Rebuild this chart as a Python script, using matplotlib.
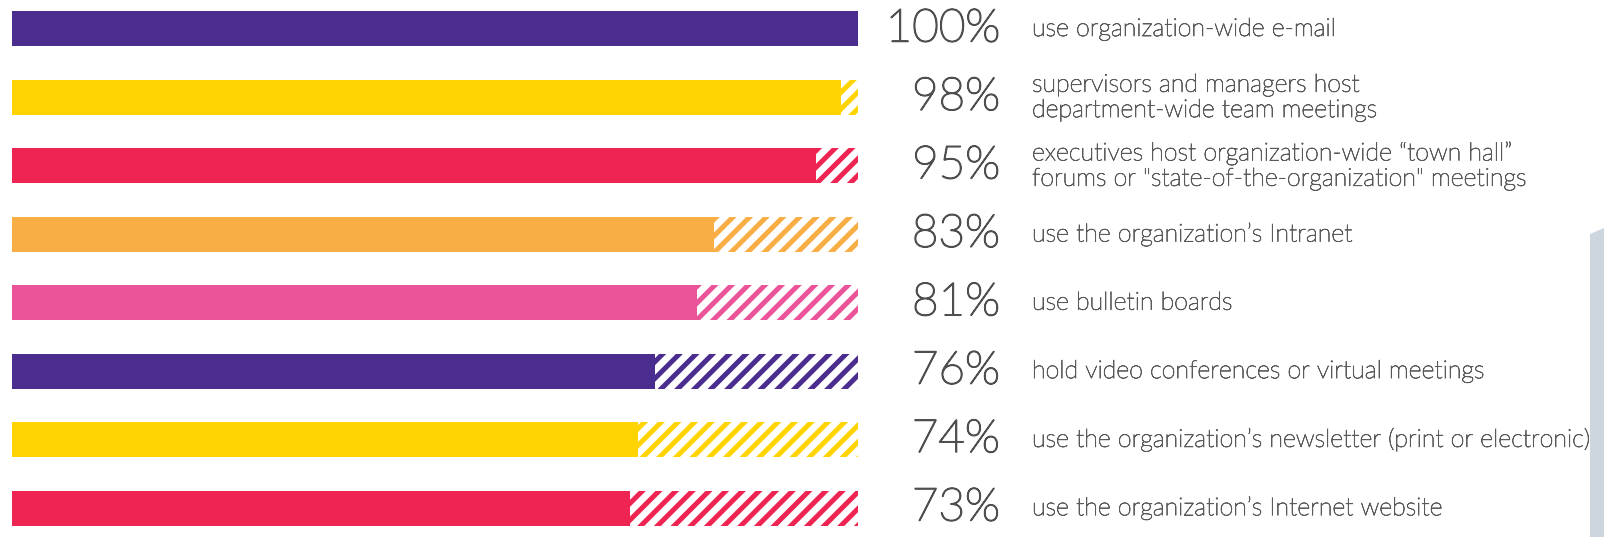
import matplotlib
matplotlib.use("Agg")
import matplotlib.pyplot as plt
import matplotlib.patheffects as pe
from matplotlib.patches import Polygon

# Survey results: share of organizations using each communication channel
values = [100, 98, 95, 83, 81, 76, 74, 73]
pct_labels = ["100%", "98%", "95%", "83%", "81%", "76%", "74%", "73%"]
descriptions = [
    "use organization-wide e-mail",
    "supervisors and managers host\ndepartment-wide team meetings",
    "executives host organization-wide \u201ctown hall\u201d\nforums or \"state-of-the-organization\" meetings",
    "use the organization\u2019s Intranet",
    "use bulletin boards",
    "hold video conferences or virtual meetings",
    "use the organization\u2019s newsletter (print or electronic)",
    "use the organization\u2019s Internet website",
]
colors = ["#4b2c8f", "#ffd400", "#ee2552", "#f9ad45", "#ec5499",
          "#4b2c8f", "#ffd400", "#ee2552"]

W, H = 1604, 537
fig = plt.figure(figsize=(W / 100, H / 100), dpi=100)
fig.patch.set_facecolor("white")

left_px, right_px = 12, 858
ax = fig.add_axes([left_px / W, 0, (right_px - left_px) / W, 1])
ax.set_xlim(0, 100)
pitch = 68.43
ax.set_ylim(7 + (H - 508) / pitch, -29 / pitch)
ax.axis("off")

plt.rcParams["hatch.linewidth"] = 3.6
bar_h = 35 / pitch
for i, (v, c) in enumerate(zip(values, colors)):
    ax.barh(i, v, height=bar_h, color=c, linewidth=0)
    if v < 100:
        ax.barh(i, 100 - v, left=v, height=bar_h, facecolor="white",
                edgecolor=c, hatch="//", linewidth=0)

pct_color, desc_color = "#4f4f4f", "#5a5a5a"
pct_fx = [pe.withStroke(linewidth=1.1, foreground=pct_color)]
desc_fx = [pe.withStroke(linewidth=0.55, foreground=desc_color)]

x_pct = (1000 - left_px) / (right_px - left_px)
x_desc = (1032 - left_px) / (right_px - left_px)
tr = ax.get_yaxis_transform()
for i, (p, d) in enumerate(zip(pct_labels, descriptions)):
    ax.text(x_pct, i, p, transform=tr, ha="right", va="center",
            fontsize=33, family="Lato", fontweight="light", color=pct_color,
            path_effects=pct_fx, clip_on=False)
    ax.text(x_desc, i, d, transform=tr, ha="left", va="center",
            fontsize=18, family="Lato", fontweight="light", color=desc_color,
            linespacing=1.07, path_effects=desc_fx, clip_on=False)

# Light panel at the right edge
fig.patches.append(Polygon([[1590 / W, 0], [1604 / W, 0], [1604 / W, 1 - 228 / H],
                            [1590 / W, 1 - 234 / H]], closed=True,
                           transform=fig.transFigure, facecolor="#cdd6df",
                           edgecolor="none"))

fig.savefig("out.png", dpi=100, facecolor="white")
